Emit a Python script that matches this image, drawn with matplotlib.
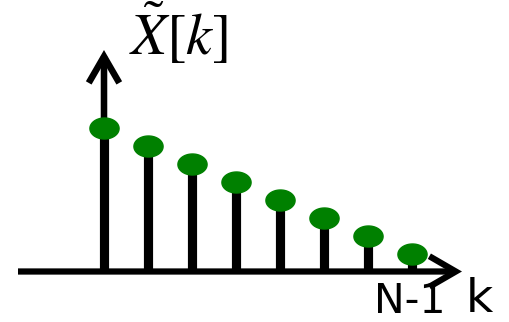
import matplotlib
matplotlib.use("Agg")
import matplotlib.pyplot as plt
from matplotlib.path import Path
from matplotlib.patches import ArrowStyle
import numpy as np

plt.rcParams["mathtext.fontset"] = "stix"

# DFT coefficient magnitudes for k = 0 .. N-1
k_index = [0, 1, 2, 3, 4, 5, 6, 7]
magnitude = [8, 7, 6, 5, 4, 3, 2, 1]
last_tick_label = "N-1"
x_axis_label = "k"
y_axis_label = r"$\tilde{X}[k]$"

W, H, DPI = 510, 322, 100
fig = plt.figure(figsize=(W / DPI, H / DPI), dpi=DPI)
ax = fig.add_axes([0, 0, 1, 1])
ax.set_axis_off()

# data-space layout: 44 px per index step, 18 px per magnitude unit
x0_px, step_px = 104, 44
y0_px, unit_px = 322 - 271.5, 18
ax.set_xlim(-x0_px / step_px, (W - x0_px) / step_px)
ax.set_ylim(-y0_px / unit_px, (H - y0_px) / unit_px)

# stems
ax.vlines(k_index, 0, magnitude, colors="black", linewidth=6.6, zorder=2)

# elliptical stem heads
theta = np.linspace(0, 2 * np.pi, 60)
ellipse = Path(np.column_stack([np.cos(theta), 0.72 * np.sin(theta)]), closed=True)
ax.plot(k_index, magnitude, linestyle="none", marker=ellipse, markersize=21,
        markerfacecolor="#008000", markeredgecolor="#008000", zorder=4)

# axes with open arrowheads
arrow = ArrowStyle("->", head_length=0.95, head_width=0.55)
x_start = (18 - x0_px) / step_px
x_tip = (462 - x0_px) / step_px
y_tip = (H - 50 - y0_px) / unit_px
ax.annotate("", xy=(x_tip, 0), xytext=(x_start, 0),
            arrowprops=dict(arrowstyle=arrow, lw=4.5, color="black",
                            mutation_scale=20, shrinkA=0, shrinkB=0,
                            capstyle="butt", joinstyle="miter"),
            zorder=3)
ax.annotate("", xy=(0, y_tip), xytext=(0, 0),
            arrowprops=dict(arrowstyle=arrow, lw=4.7, color="black",
                            mutation_scale=20, shrinkA=0, shrinkB=0,
                            capstyle="butt", joinstyle="miter"),
            zorder=3)

# labels
fig.text(129 / W, (H - 55) / H, y_axis_label, fontsize=42,
         ha="left", va="baseline")
ax.text(k_index[-1] - 0.06, (H - 313 - y0_px) / unit_px, last_tick_label,
        fontsize=29.5, family="DejaVu Sans", ha="center", va="baseline")
fig.text(466 / W, (H - 312) / H, x_axis_label, fontsize=34,
         family="DejaVu Sans", ha="left", va="baseline")

fig.savefig("out.png", dpi=DPI)
